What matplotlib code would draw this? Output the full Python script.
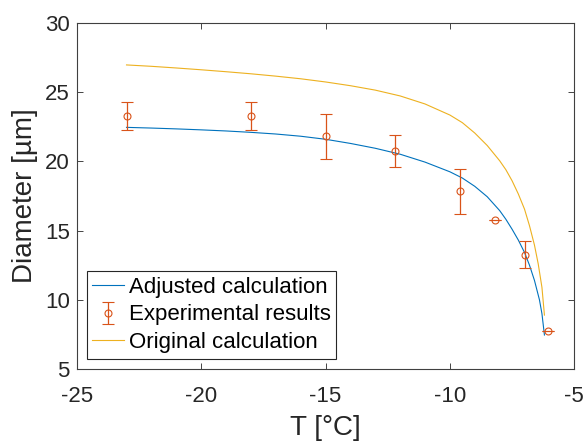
# Diameter vs temperature: adjusted / original calculation and experiment
import numpy as np
import matplotlib.pyplot as plt

plt.rcParams['font.family'] = ['Liberation Sans', 'DejaVu Sans']
plt.rcParams['axes.unicode_minus'] = False

# adjusted calculation
adj_T = [-23, -22, -21, -20, -19, -18, -17, -16, -15, -14, -13, -12, -11,
         -10, -9.5, -9.0, -8.5, -8.0, -7.75, -7.5, -7.25, -7.0, -6.8, -6.6,
         -6.4, -6.3, -6.2]
adj_D = [22.46, 22.41, 22.35, 22.28, 22.2, 22.1, 21.98, 21.82, 21.6, 21.3,
         20.95, 20.52, 19.95, 19.25, 18.8, 18.2, 17.45, 16.45, 15.82, 15.1,
         14.32, 13.42, 12.5, 11.4, 10.0, 9.0, 7.46]

# original calculation
orig_T = [-23, -22, -21, -20, -19, -18, -17, -16, -15, -14, -13, -12, -11,
          -10, -9.5, -9.0, -8.5, -8.0, -7.75, -7.5, -7.25, -7.0, -6.8, -6.6,
          -6.45, -6.3, -6.2]
orig_D = [26.97, 26.87, 26.75, 26.62, 26.48, 26.33, 26.16, 25.97, 25.74,
          25.47, 25.15, 24.73, 24.15, 23.35, 22.8, 22.05, 21.15, 20.05, 19.4,
          18.6, 17.65, 16.55, 15.35, 13.95, 12.6, 10.9, 8.9]

# experimental results
exp_T = [-23, -18, -15, -12.2, -9.6, -8.2, -7.0, -6.05]
exp_D = [23.3, 23.3, 21.83, 20.78, 17.83, 15.8, 13.27, 7.77]
exp_err = [1.0, 1.0, 1.63, 1.15, 1.62, 0.0, 1.0, 0.0]

blue = '#0072BD'
red = '#D95319'
yellow = '#EDB120'
axcol = '#262626'

fig = plt.figure(figsize=(5.86, 4.42), dpi=100)
ax = fig.add_axes([0.131, 0.165, 0.849, 0.783])

h1, = ax.plot(adj_T, adj_D, color=blue, lw=0.8, label='Adjusted calculation')
h2 = ax.errorbar(exp_T, exp_D, yerr=exp_err, fmt='o', color=red, mfc='none',
                 ms=5, mew=0.8, elinewidth=0.9, capsize=4, capthick=0.9,
                 label='Experimental results')
h3, = ax.plot(orig_T, orig_D, color=yellow, lw=0.8, label='Original calculation')

ax.set_xlim(-25, -5)
ax.set_ylim(5, 30)
ax.set_xticks([-25, -20, -15, -10, -5])
ax.set_yticks([5, 10, 15, 20, 25, 30])
ax.set_xlabel('T [°C]', fontsize=20, color=axcol, labelpad=6)
ax.set_ylabel('Diameter [µm]', fontsize=20, color=axcol, labelpad=5)
ax.tick_params(direction='in', length=4, width=0.6, colors=axcol,
               labelsize=16, top=True, right=True)
ax.tick_params(axis='x', pad=12)
ax.tick_params(axis='y', pad=5)
for s in ax.spines.values():
    s.set_color('#404040')
    s.set_linewidth(0.8)

leg = ax.legend([h1, h2, h3], [h1.get_label(), h2.get_label(), h3.get_label()],
                loc='lower left', bbox_to_anchor=(0.02, 0.03),
                borderaxespad=0, fontsize=16, fancybox=False,
                framealpha=1, edgecolor=axcol, handlelength=1.45,
                handletextpad=0.2, labelspacing=0.3, borderpad=0.25)
leg.get_frame().set_linewidth(0.8)

fig.savefig('out.png', dpi=100)
